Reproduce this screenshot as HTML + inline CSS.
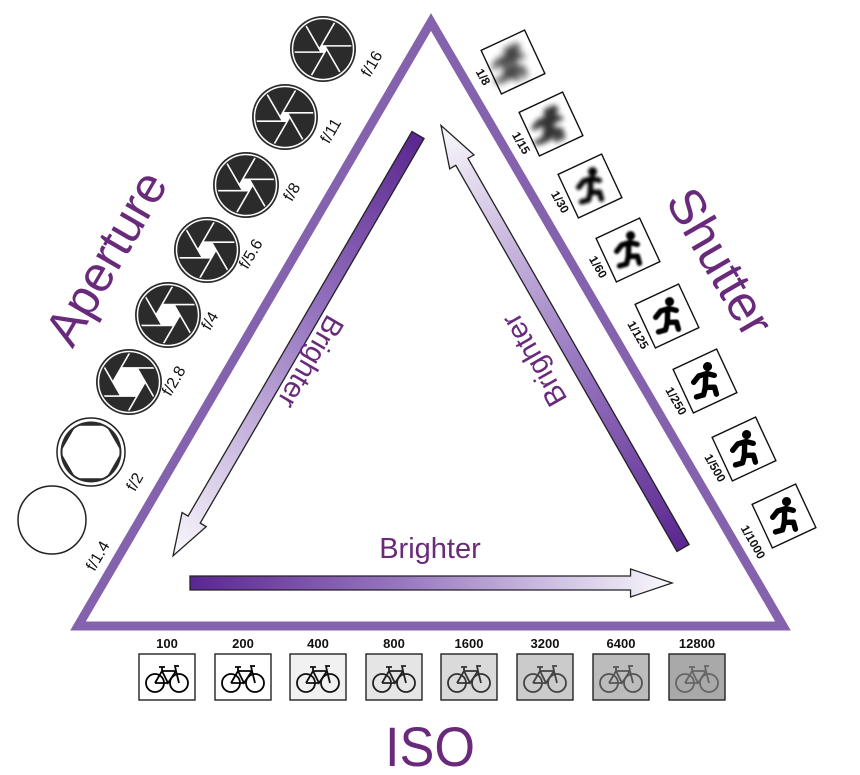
<!DOCTYPE html>
<html><head><meta charset="utf-8"><style>
html,body{margin:0;padding:0;background:#fff;}
svg{display:block;font-family:"Liberation Sans",sans-serif;}
.big{fill:#6a2a7c;font-size:50px;}
.br{fill:#6a2a7c;font-size:29px;}
.fl{fill:#111;font-size:16px;}
.sl{fill:#111;font-size:12px;font-weight:bold;}
.il{fill:#111;font-size:13px;font-weight:bold;}
</style></head><body>
<svg width="860" height="775" viewBox="0 0 860 775" xmlns="http://www.w3.org/2000/svg">
<defs>
<clipPath id="cc"><circle r="28.5"/></clipPath>
<g id="bl">
<polygon points="6,0 3,5.2 -3,5.2 -6,0 -3,-5.2 3,-5.2" fill="#fff"/>
<g stroke="#fff" stroke-width="1.6">
<line x1="6" y1="0" x2="-34" y2="69.3" vector-effect="non-scaling-stroke"/>
<line x1="3" y1="5.2" x2="-77" y2="5.2" vector-effect="non-scaling-stroke"/>
<line x1="-3" y1="5.2" x2="-43" y2="-64.1" vector-effect="non-scaling-stroke"/>
<line x1="-6" y1="0" x2="34" y2="-69.3" vector-effect="non-scaling-stroke"/>
<line x1="-3" y1="-5.2" x2="77" y2="-5.2" vector-effect="non-scaling-stroke"/>
<line x1="3" y1="-5.2" x2="43" y2="64.1" vector-effect="non-scaling-stroke"/>
</g></g>
<g id="run" fill="none" stroke="#000" stroke-width="4.5" stroke-linecap="round" stroke-linejoin="round" transform="scale(1.2)">
<circle cx="7" cy="-10" r="3.8" fill="#000" stroke="none"/>
<path d="M3,-5 L-2,5"/>
<path d="M-9,-3 L-3,-6 L4,-5 L9,-1"/>
<path d="M-2,5 L5,8 L4,14"/>
<path d="M-2,5 L-6,10 L-12,9"/>
</g>
<filter id="b4" x="-1" y="-1" width="3" height="3"><feGaussianBlur stdDeviation="3.5"/></filter>
<filter id="b3" x="-1" y="-1" width="3" height="3"><feGaussianBlur stdDeviation="2.6"/></filter>
<filter id="b2" x="-1" y="-1" width="3" height="3"><feGaussianBlur stdDeviation="1.6"/></filter>
<filter id="b1" x="-1" y="-1" width="3" height="3"><feGaussianBlur stdDeviation="1.1"/></filter>
<filter id="b0" x="-1" y="-1" width="3" height="3"><feGaussianBlur stdDeviation="0.4"/></filter>
<g id="bike" fill="none" stroke-width="1.8">
<circle cx="-12" cy="6" r="9"/><circle cx="12" cy="6" r="9"/>
<path d="M-12,6 L-5,-6 L9,-6 L12,6 M-5,-6 L1,6 L9,-6 M-12,6 L1,6 M-8,-10 L-2,-10 M-5,-10 L-5,-6 M9,-6 L8,-11 L12,-11"/>
</g>
<linearGradient id="ga" gradientUnits="userSpaceOnUse" x1="0" y1="0" x2="490" y2="0">
<stop offset="0" stop-color="#5a2690"/><stop offset="0.45" stop-color="#9a7ac2"/><stop offset="1" stop-color="#fbfafd"/>
</linearGradient>
<g id="arr"><path d="M0,-7 L445,-7 L445,-14 L487,0 L445,14 L445,7 L0,7 Z" fill="url(#ga)" stroke="#222" stroke-width="1.3"/></g>
<g id="box"><rect x="-24" y="-24" width="48" height="48" fill="#fff" stroke="#111" stroke-width="1.4"/></g>
</defs>

<polygon points="431,22 78,626 783,626" fill="none" stroke="#8462ad" stroke-width="9" stroke-linejoin="miter"/>

<use href="#arr" transform="translate(418,135) rotate(120.2)"/>
<use href="#arr" transform="translate(683,548) rotate(-119.8)"/>
<use href="#arr" transform="translate(190,583) scale(0.99,1)"/>

<text class="br" transform="translate(311,362) rotate(120.2)" text-anchor="middle" dy="10">Brighter</text>
<text class="br" transform="translate(534,360) rotate(-119.8)" text-anchor="middle" dy="10">Brighter</text>
<text class="br" x="430" y="558" text-anchor="middle">Brighter</text>

<text class="big" transform="translate(106,258) rotate(-59.8)" text-anchor="middle" dy="17">Aperture</text>
<g>
<g transform="translate(323,49)"><circle r="33" fill="#2b2b2b"/><circle r="30.5" fill="none" stroke="#fff" stroke-width="1.5"/><g clip-path="url(#cc)"><g transform="scale(0.6)"><use href="#bl"/></g></g></g>
<g transform="translate(285,117)"><circle r="33" fill="#2b2b2b"/><circle r="30.5" fill="none" stroke="#fff" stroke-width="1.5"/><g clip-path="url(#cc)"><g transform="scale(0.8)"><use href="#bl"/></g></g></g>
<g transform="translate(246,185)"><circle r="33" fill="#2b2b2b"/><circle r="30.5" fill="none" stroke="#fff" stroke-width="1.5"/><g clip-path="url(#cc)"><g transform="scale(1.1)"><use href="#bl"/></g></g></g>
<g transform="translate(207,250)"><circle r="33" fill="#2b2b2b"/><circle r="30.5" fill="none" stroke="#fff" stroke-width="1.5"/><g clip-path="url(#cc)"><g transform="scale(1.5)"><use href="#bl"/></g></g></g>
<g transform="translate(168,315)"><circle r="33" fill="#2b2b2b"/><circle r="30.5" fill="none" stroke="#fff" stroke-width="1.5"/><g clip-path="url(#cc)"><g transform="scale(2.0)"><use href="#bl"/></g></g></g>
<g transform="translate(129,382)"><circle r="33" fill="#2b2b2b"/><circle r="30.5" fill="none" stroke="#fff" stroke-width="1.5"/><g clip-path="url(#cc)"><g transform="scale(2.7)"><use href="#bl"/></g></g></g>
<g transform="translate(91,452)"><circle r="34" fill="#fff" stroke="#222" stroke-width="1.5"/><circle r="30.5" fill="#2b2b2b"/><g clip-path="url(#cc)"><g transform="scale(4.9)"><use href="#bl"/></g></g></g>
<circle cx="52" cy="520" r="34" fill="#fff" stroke="#222" stroke-width="1.5"/>
</g>
<text class="fl" transform="translate(372,64) rotate(-59.8)" text-anchor="middle" dy="5">f/16</text>
<text class="fl" transform="translate(331,131) rotate(-59.8)" text-anchor="middle" dy="5">f/11</text>
<text class="fl" transform="translate(292,192) rotate(-59.8)" text-anchor="middle" dy="5">f/8</text>
<text class="fl" transform="translate(251,254) rotate(-59.8)" text-anchor="middle" dy="5">f/5.6</text>
<text class="fl" transform="translate(210,321) rotate(-59.8)" text-anchor="middle" dy="5">f/4</text>
<text class="fl" transform="translate(174,381) rotate(-59.8)" text-anchor="middle" dy="5">f/2.8</text>
<text class="fl" transform="translate(135,482) rotate(-59.8)" text-anchor="middle" dy="5">f/2</text>
<text class="fl" transform="translate(98,556) rotate(-59.8)" text-anchor="middle" dy="5">f/1.4</text>

<text class="big" transform="translate(720,262) rotate(59.8)" text-anchor="middle" dy="17">Shutter</text>
<g transform="translate(513,62) rotate(-25)"><use href="#box"/><g filter="url(#b4)" opacity="0.75"><use href="#run"/><use href="#run" x="-8"/></g></g>
<g transform="translate(551,124) rotate(-25)"><use href="#box"/><g filter="url(#b3)" opacity="0.8"><use href="#run"/><use href="#run" x="-6"/></g></g>
<g transform="translate(590,186) rotate(-25)"><use href="#box"/><g filter="url(#b2)"><use href="#run"/></g></g>
<g transform="translate(628,250) rotate(-25)"><use href="#box"/><g filter="url(#b1)"><use href="#run"/></g></g>
<g transform="translate(667,316) rotate(-25)"><use href="#box"/><g filter="url(#b0)"><use href="#run"/></g></g>
<g transform="translate(705,381) rotate(-25)"><use href="#box"/><use href="#run"/></g>
<g transform="translate(744,449) rotate(-25)"><use href="#box"/><use href="#run"/></g>
<g transform="translate(784,516) rotate(-25)"><use href="#box"/><use href="#run"/></g>
<text class="sl" transform="translate(483,77) rotate(59.8)" text-anchor="middle" dy="4">1/8</text>
<text class="sl" transform="translate(521,143) rotate(59.8)" text-anchor="middle" dy="4">1/15</text>
<text class="sl" transform="translate(560,202) rotate(59.8)" text-anchor="middle" dy="4">1/30</text>
<text class="sl" transform="translate(598,267) rotate(59.8)" text-anchor="middle" dy="4">1/60</text>
<text class="sl" transform="translate(638,335) rotate(59.8)" text-anchor="middle" dy="4">1/125</text>
<text class="sl" transform="translate(676,401) rotate(59.8)" text-anchor="middle" dy="4">1/250</text>
<text class="sl" transform="translate(715,468) rotate(59.8)" text-anchor="middle" dy="4">1/500</text>
<text class="sl" transform="translate(753,542) rotate(59.8)" text-anchor="middle" dy="4">1/1000</text>

<g>
<text class="il" x="167" y="648" text-anchor="middle">100</text>
<text class="il" x="243" y="648" text-anchor="middle">200</text>
<text class="il" x="318" y="648" text-anchor="middle">400</text>
<text class="il" x="394" y="648" text-anchor="middle">800</text>
<text class="il" x="469" y="648" text-anchor="middle">1600</text>
<text class="il" x="545" y="648" text-anchor="middle">3200</text>
<text class="il" x="621" y="648" text-anchor="middle">6400</text>
<text class="il" x="697" y="648" text-anchor="middle">12800</text>
</g>
<g stroke="#222" stroke-width="1.4">
<rect x="139" y="654" width="56" height="46" fill="#fff"/>
<rect x="215" y="654" width="56" height="46" fill="#fff"/>
<rect x="290" y="654" width="56" height="46" fill="#f1f1f1"/>
<rect x="366" y="654" width="56" height="46" fill="#e5e5e5"/>
<rect x="441" y="654" width="56" height="46" fill="#dadada"/>
<rect x="517" y="654" width="56" height="46" fill="#cbcbcb"/>
<rect x="593" y="654" width="56" height="46" fill="#bcbcbc"/>
<rect x="669" y="654" width="56" height="46" fill="#a9a9a9"/>
</g>
<use href="#bike" transform="translate(167,677)" stroke="#000"/>
<use href="#bike" transform="translate(243,677)" stroke="#000"/>
<use href="#bike" transform="translate(318,677)" stroke="#111"/>
<use href="#bike" transform="translate(394,677)" stroke="#222"/>
<use href="#bike" transform="translate(469,677)" stroke="#333"/>
<use href="#bike" transform="translate(545,677)" stroke="#444"/>
<use href="#bike" transform="translate(621,677)" stroke="#555"/>
<use href="#bike" transform="translate(697,677)" stroke="#666"/>
<text class="big" x="430" y="766" text-anchor="middle" style="font-size:56px" textLength="90" lengthAdjust="spacingAndGlyphs">ISO</text>
</svg>
</body></html>
